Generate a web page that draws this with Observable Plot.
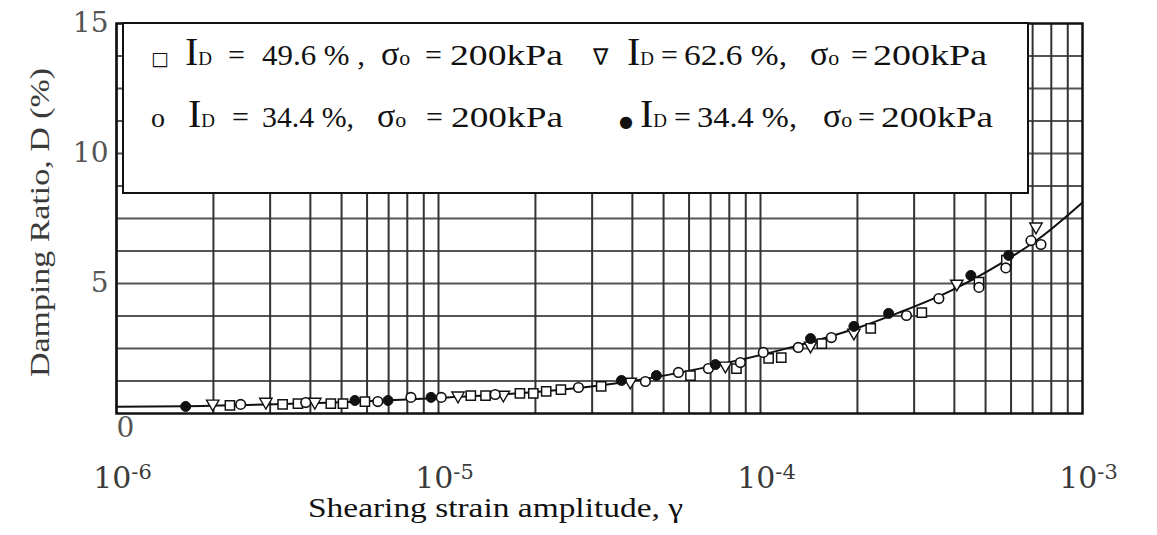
<!DOCTYPE html>
<html><head><meta charset="utf-8">
<script src="https://cdn.jsdelivr.net/npm/d3@7"></script>
<script src="https://cdn.jsdelivr.net/npm/@observablehq/plot@0.6"></script>
<style>
html,body{margin:0;padding:0;background:#fff;overflow:hidden}
#chart{width:1157px;height:535px}
</style></head><body><div id="chart"></div>
<script>
// ---------- data ----------
const xTickValues = [1e-6, 1e-5, 1e-4, 1e-3];
const yTickValues = [5, 10, 15];
const xLabel = "Shearing strain amplitude, \u03B3";
const yLabel = "Damping Ratio, D (%)";

const legendMarkers = ["\u25A1", "\u2207", "o", "\u25CF"];
const legendId = ["49.6 % ,", "62.6 %,", "34.4 %,", "34.4 %,"];
const legendSigma = ["200kPa", "200kPa", "200kPa", "200kPa"];

// open squares: I_D = 49.6 %
const squareStrain = [2.25e-6, 3.28e-6, 3.66e-6, 4.63e-6, 5.05e-6, 5.91e-6, 1.26e-5, 1.40e-5, 1.79e-5, 1.97e-5, 2.16e-5, 2.40e-5, 3.20e-5, 6.06e-5, 8.42e-5, 1.06e-4, 1.16e-4, 1.55e-4, 2.20e-4, 3.17e-4, 4.77e-4, 5.80e-4];
const squareD      = [0.31, 0.35, 0.38, 0.38, 0.38, 0.46, 0.69, 0.69, 0.77, 0.77, 0.85, 0.92, 1.04, 1.46, 1.73, 2.12, 2.15, 2.69, 3.27, 3.88, 5.05, 5.90];
// open down-triangles: I_D = 62.6 %
const triStrain = [1.99e-6, 2.91e-6, 4.13e-6, 1.15e-5, 1.59e-5, 3.94e-5, 7.78e-5, 1.43e-4, 1.95e-4, 4.07e-4, 7.17e-4];
const triD      = [0.31, 0.38, 0.38, 0.62, 0.65, 1.15, 1.77, 2.54, 3.04, 4.92, 7.12];
// open circles: I_D = 34.4 %
const circleStrain = [2.43e-6, 3.87e-6, 6.48e-6, 8.21e-6, 1.02e-5, 1.50e-5, 2.72e-5, 4.39e-5, 5.56e-5, 6.89e-5, 8.66e-5, 1.02e-4, 1.31e-4, 1.66e-4, 2.84e-4, 3.58e-4, 4.77e-4, 5.78e-4, 6.92e-4, 7.43e-4];
const circleD      = [0.35, 0.42, 0.46, 0.62, 0.62, 0.73, 1.00, 1.23, 1.58, 1.73, 1.96, 2.35, 2.54, 2.92, 3.77, 4.42, 4.85, 5.60, 6.65, 6.50];
// filled circles: I_D = 34.4 %
const filledStrain = [1.64e-6, 5.50e-6, 6.97e-6, 9.48e-6, 3.70e-5, 4.75e-5, 7.24e-5, 1.43e-4, 1.95e-4, 2.50e-4, 4.50e-4, 5.90e-4];
const filledD      = [0.27, 0.50, 0.50, 0.62, 1.27, 1.46, 1.88, 2.88, 3.35, 3.85, 5.31, 6.08];
// fitted curve
const curveStrain = [1.0e-6, 1.64e-6, 3.66e-6, 9.95e-6, 2.35e-5, 4.48e-5, 7.40e-5, 1.31e-4, 2.02e-4, 2.69e-4, 3.85e-4, 5.50e-4, 7.33e-4, 1.0e-3];
const curveD      = [0.26, 0.28, 0.38, 0.60, 0.90, 1.35, 1.88, 2.62, 3.31, 3.88, 4.69, 5.73, 6.73, 8.12];

// ---------- build tables ----------
const zip = (xs, ys) => xs.map((x, i) => ({strain: x, D: ys[i]}));
const squares = zip(squareStrain, squareD);
const tris = zip(triStrain, triD);
const circles = zip(circleStrain, circleD);
const filled = zip(filledStrain, filledD);
const curve = zip(curveStrain, curveD);

// log-grid lines (1..9 x 10^k) and linear grid every 1.25 %
const xGrid = d3.range(-6, -3).flatMap(e => d3.range(1, 10).map(m => m * Math.pow(10, e)));
const yGrid = d3.range(1.25, 15, 1.25);

const triDown = {
  draw(ctx, size) {
    const s = Math.sqrt(size * 4 / Math.sqrt(3));
    const h = s * Math.sqrt(3) / 2;
    ctx.moveTo(-s / 2, -h / 2);
    ctx.lineTo(s / 2, -h / 2);
    ctx.lineTo(0, h / 2);
    ctx.closePath();
  }
};

const ink = "#111";
const plot = Plot.plot({
  width: 1157,
  height: 535,
  marginLeft: 116,
  marginRight: 75,
  marginTop: 23,
  marginBottom: 122,
  style: {fontFamily: "Liberation Serif", background: "white"},
  x: {type: "log", domain: [1e-6, 1e-3]},
  y: {domain: [0, 15]},
  marks: [
    Plot.ruleY(yGrid, {stroke: "#555", strokeWidth: 1.8}),
    Plot.ruleX(xGrid, {stroke: "#333", strokeWidth: 2}),
    Plot.frame({stroke: ink, strokeWidth: 2.5}),
    Plot.axisX(xTickValues, {
      tickSize: 0, tickPadding: 53, fontSize: 30, fontFamily: "DejaVu Serif", fill: "#3a3a3a",
      dx: 6, tickFormat: d => "10^" + Math.round(Math.log10(d)), label: null
    }),
    Plot.axisY(yTickValues, {
      anchor: "left", tickSize: 0, tickPadding: 8, fontSize: 28, fontFamily: "DejaVu Serif",
      fill: "#555", label: null
    }),
    Plot.axisY([0], {
      anchor: "left", tickSize: 0, tickPadding: 0, textAnchor: "start", dy: 15,
      fontSize: 28, fontFamily: "DejaVu Serif", fill: "#555", label: null
    }),
    Plot.text([xLabel], {frameAnchor: "bottom", textAnchor: "middle", lineAnchor: "middle", dx: -104, dy: 95, fontSize: 27, fill: ink}),
    Plot.text([yLabel], {frameAnchor: "left", textAnchor: "middle", lineAnchor: "middle", rotate: -90, dx: -76, dy: 4, fontSize: 27, fill: "#3a3a3a"}),
    Plot.line(curve, {x: "strain", y: "D", curve: "monotone-x", stroke: ink, strokeWidth: 2}),
    Plot.dot(squares, {x: "strain", y: "D", symbol: "square", r: 5.2, fill: "white", stroke: ink, strokeWidth: 1.5}),
    Plot.dot(tris, {x: "strain", y: "D", symbol: triDown, r: 4.6, fill: "white", stroke: ink, strokeWidth: 1.4}),
    Plot.dot(circles, {x: "strain", y: "D", symbol: "circle", r: 4.8, fill: "white", stroke: ink, strokeWidth: 1.6}),
    Plot.dot(filled, {x: "strain", y: "D", symbol: "circle", r: 5, fill: ink, stroke: ink, strokeWidth: 1})
  ]
});
document.getElementById("chart").appendChild(plot);

// ---------- post styling ----------
const svg = d3.select(plot);
svg.selectAll('g[aria-label="x-axis tick label"] text').each(function () {
  const parts = this.textContent.split("^");
  const t = d3.select(this);
  t.text(null);
  t.append("tspan").text(parts[0]);
  t.append("tspan").attr("dy", "-0.42em").attr("font-size", "0.7em").text(parts[1]);
});
svg.selectAll("text").filter(function () { return this.textContent === yLabel; })
  .attr("textLength", 309).attr("lengthAdjust", "spacingAndGlyphs");
svg.selectAll("text").filter(function () { return this.textContent === xLabel; })
  .attr("textLength", 375).attr("lengthAdjust", "spacingAndGlyphs");

// legend box drawn inside the plot area (layout positions and widths only)
const legendLayout = [
  {y: 65,  marker: 151, I: 185, eq: 228, num: 262, numW: 103, sig: 381, eq2: 425, val: 450, valW: 113},
  {y: 65,  marker: 593, I: 627, eq: 661, num: 684, numW: 103, sig: 810, eq2: 851, val: 873, valW: 114},
  {y: 127, marker: 151, I: 188, eq: 232, num: 262, numW: 92,  sig: 377, eq2: 426, val: 451, valW: 112},
  {y: 127, marker: 619, I: 640, eq: 674, num: 697, numW: 100, sig: 823, eq2: 858, val: 881, valW: 112}
];
const leg = svg.append("g").attr("font-family", "Liberation Serif").attr("fill", ink).attr("text-anchor", "start");
leg.append("rect").attr("x", 123).attr("y", 23).attr("width", 905).attr("height", 170)
  .attr("fill", "white").attr("stroke", ink).attr("stroke-width", 2);
legendMarkers.forEach((m, i) => {
  const L = legendLayout[i];
  const markerFont = m === "o" ? "Liberation Serif" : "DejaVu Sans";
  const markerSize = m === "o" ? 28 : (m === "\u25CF" ? 16 : (m === "\u2207" ? 23 : 19));
  leg.append("text").attr("x", L.marker).attr("y", L.y)
    .attr("font-family", markerFont).attr("font-size", markerSize).text(m);
  const id = leg.append("text").attr("x", L.I).attr("y", L.y);
  id.append("tspan").attr("font-size", 40).text("I");
  id.append("tspan").attr("font-size", 19).text("D");
  leg.append("text").attr("x", L.eq).attr("y", L.y).attr("font-size", 30).text("=");
  leg.append("text").attr("x", L.num).attr("y", L.y).attr("font-size", 30)
    .attr("textLength", L.numW).attr("lengthAdjust", "spacingAndGlyphs").style("white-space", "pre").text(legendId[i]);
  const sg = leg.append("text").attr("x", L.sig).attr("y", L.y);
  sg.append("tspan").attr("font-size", 34).text("\u03C3");
  sg.append("tspan").attr("font-size", 22).text("o");
  leg.append("text").attr("x", L.eq2).attr("y", L.y).attr("font-size", 30).text("=");
  leg.append("text").attr("x", L.val).attr("y", L.y).attr("font-size", 30)
    .attr("textLength", L.valW).attr("lengthAdjust", "spacingAndGlyphs").text(legendSigma[i]);
});
</script>
</body></html>
